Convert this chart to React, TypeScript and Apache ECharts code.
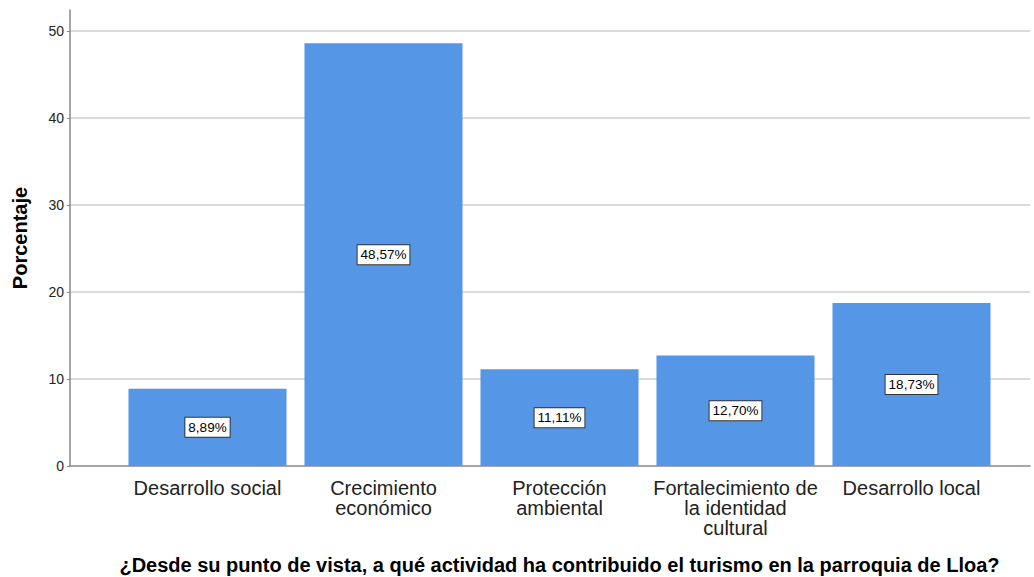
import React, { useEffect, useRef } from "react";
import * as echarts from "echarts";

const categories = [
  "Desarrollo social",
  "Crecimiento\neconómico",
  "Protección\nambiental",
  "Fortalecimiento de\nla identidad\ncultural",
  "Desarrollo local",
];
const percentages = [8.89, 48.57, 11.11, 12.7, 18.73];
const yTicks = [0, 10, 20, 30, 40, 50];
const yAxisTitle = "Porcentaje";
const xAxisTitle =
  "¿Desde su punto de vista, a qué actividad ha contribuido el turismo en la parroquia de Lloa?";

const FONT = "'Liberation Sans', Arial, sans-serif";

export default function App() {
  const ref = useRef<HTMLDivElement>(null);
  useEffect(() => {
    document.body.style.margin = "0";
    const chart = echarts.init(ref.current!, undefined, { renderer: "svg" });
    const yMax = 52.4;
    chart.setOption({
      animation: false,
      backgroundColor: "#ffffff",
      grid: [
        { left: 119.5, right: 34.5, top: 10, bottom: 111, containLabel: false, outerBoundsMode: "none" },
        { left: 70, right: 4, top: 10, bottom: 111, containLabel: false, outerBoundsMode: "none" },
      ],
      xAxis: [
        {
          type: "category",
          gridIndex: 0,
          data: categories,
          axisLine: { show: false },
          axisTick: { show: false },
          axisLabel: {
            interval: 0,
            color: "#222",
            fontFamily: FONT,
            fontSize: 20,
            lineHeight: 20,
            margin: 12,
          },
          name: xAxisTitle,
          nameLocation: "middle",
          nameGap: 89,
          nameTextStyle: {
            color: "#000",
            fontFamily: FONT,
            fontSize: 20,
            fontWeight: "bold",
          },
        },
        {
          type: "value",
          gridIndex: 1,
          min: 0,
          max: 1,
          axisLine: { show: true, lineStyle: { color: "#888", width: 1.5 } },
          axisTick: { show: false },
          axisLabel: { show: false },
          splitLine: { show: false },
        },
      ],
      yAxis: [
        {
          type: "value",
          gridIndex: 0,
          min: 0,
          max: yMax,
          show: false,
          splitLine: { show: false },
        },
        {
          type: "value",
          gridIndex: 1,
          min: yTicks[0],
          max: yMax,
          interval: 10,
          axisLine: { show: true, lineStyle: { color: "#888", width: 1.5 } },
          axisTick: { show: true, length: 3, lineStyle: { color: "#888" } },
          axisLabel: {
            showMaxLabel: false,
            color: "#222",
            fontFamily: FONT,
            fontSize: 14,
            margin: 6,
            formatter: (v: number) => (yTicks.includes(v) ? String(v) : ""),
          },
          splitLine: {
            show: true,
            showMaxLine: false,
            showMinLine: false,
            lineStyle: { color: "#cfcfcf", width: 1.5 },
          },
          name: yAxisTitle,
          nameLocation: "middle",
          nameGap: 40,
          nameTextStyle: {
            color: "#000",
            fontFamily: FONT,
            fontSize: 20,
            fontWeight: "bold",
          },
        },
      ],
      series: [
        {
          type: "bar",
          xAxisIndex: 0,
          yAxisIndex: 0,
          data: percentages,
          barCategoryGap: "10.2%",
          itemStyle: { color: "#5596E6" },
          label: {
            show: true,
            position: "inside",
            formatter: (p: any) => p.value.toFixed(2).replace(".", ",") + "%",
            color: "#000",
            fontFamily: FONT,
            fontSize: 13.5,
            backgroundColor: "#fff",
            borderColor: "#333",
            borderWidth: 1,
            padding: [3, 3, 2, 3],
          },
        },
      ],
    });
    return () => chart.dispose();
  }, []);
  return <div ref={ref} style={{ width: 1034, height: 577 }} />;
}
